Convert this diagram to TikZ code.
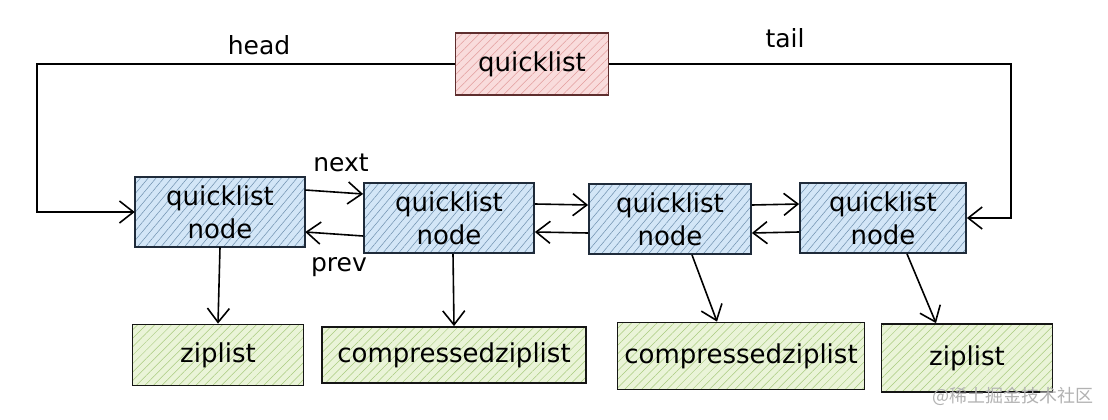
\documentclass[tikz,border=0pt]{standalone}
\usepackage{fontspec}
\setmainfont{DejaVu Sans}
\newfontfamily\cjkfont{Noto Sans CJK SC}
\usetikzlibrary{arrows.meta,patterns.meta}
\definecolor{qlFill}{HTML}{F9DCDC}
\definecolor{qlHatch}{HTML}{E29C9C}
\definecolor{qlDraw}{HTML}{5E2E2E}
\definecolor{qnFill}{HTML}{D3E6F7}
\definecolor{qnHatch}{HTML}{6E90AE}
\definecolor{qnDraw}{HTML}{1F2B3A}
\definecolor{zlFill}{HTML}{EAF4D8}
\definecolor{zlHatch}{HTML}{A9CB7E}
\definecolor{zlDraw}{HTML}{151515}

\begin{document}
\begin{tikzpicture}[x=1pt,y=-1pt,
    box/.style={line width=1.8pt, align=center, inner sep=0pt,
        font=\fontsize{26}{33}\selectfont},
    headbox/.style={box, draw=qlDraw, preaction={fill=qlFill}, pattern color=qlHatch,
        pattern={Lines[angle=45,distance=6pt,line width=.5pt]},
        minimum width=153pt, minimum height=62pt},
    qnode/.style={box, draw=qnDraw, preaction={fill=qnFill}, pattern color=qnHatch,
        pattern={Lines[angle=50,distance=6pt,line width=.5pt]},
        minimum width=170pt, minimum height=70pt},
    zbox/.style={box, draw=zlDraw, preaction={fill=zlFill}, pattern color=zlHatch,
        pattern={Lines[angle=45,distance=6pt,line width=.5pt]}},
    link/.style={line width=1.6pt, -{Straight Barb[length=14pt,width=22pt,line width=1.6pt]}},
    lbl/.style={font=\fontsize{25}{28}\selectfont}
    ]
    \useasboundingbox[fill=white] (0,0) rectangle (1108,420);

    \node[headbox] (ql) at (532,64) {quicklist};

    \node[qnode] (n1) at (220,212) {quicklist\\node};
    \node[qnode] (n2) at (449,218) {quicklist\\node};
    \node[qnode, minimum width=162pt] (n3) at (670,219) {quicklist\\node};
    \node[qnode, minimum width=166pt] (n4) at (883,218) {quicklist\\node};

    \node[zbox, minimum width=171pt, minimum height=61pt] (z1) at (218,355) {ziplist};
    \node[zbox, minimum width=264pt, minimum height=56pt] (c1) at (454,355) {compressedziplist};
    \node[zbox, minimum width=247pt, minimum height=67pt] (c2) at (741,356) {compressedziplist};
    \node[zbox, minimum width=171pt, minimum height=68pt] (z2) at (967,358) {ziplist};

    % head / tail
    \draw[link] (ql.west) -- ++(-418,0) |- (n1.west);
    \draw[link] (ql.east) -- ++(402,0) |- (n4.east);
    \node[lbl] (hd) at (259,45) {head};
    \node[lbl] (tl) at (785,38) {tail};

    % next / prev
    \draw[link] ([yshift=22pt]n1.east) -- ([yshift=24pt]n2.west);
    \draw[link] ([yshift=-18pt]n2.west) -- ([yshift=-20pt]n1.east);
    \draw[link] ([yshift=14pt]n2.east) -- ([yshift=14pt]n3.west);
    \draw[link] ([yshift=-14pt]n3.west) -- ([yshift=-14pt]n2.east);
    \draw[link] ([yshift=14pt]n3.east) -- ([yshift=14pt]n4.west);
    \draw[link] ([yshift=-14pt]n4.west) -- ([yshift=-14pt]n3.east);
    \node[lbl] (nx) at (341,163) {next};
    \node[lbl] (pv) at (339,267) {prev};

    % node -> list
    \draw[link] (n1.south) -- (z1.north);
    \draw[link] ([xshift=4pt]n2.south) -- (c1.north);
    \draw[link] ([xshift=22pt]n3.south) -- ([xshift=-24pt]c2.north);
    \draw[link] ([xshift=24pt]n4.south) -- ([xshift=-31pt]z2.north);

    \node[text=black!30, font=\cjkfont\fontsize{18}{20}\selectfont] (wm) at (1013,396) {@稀土掘金技术社区};
\end{tikzpicture}
\end{document}
